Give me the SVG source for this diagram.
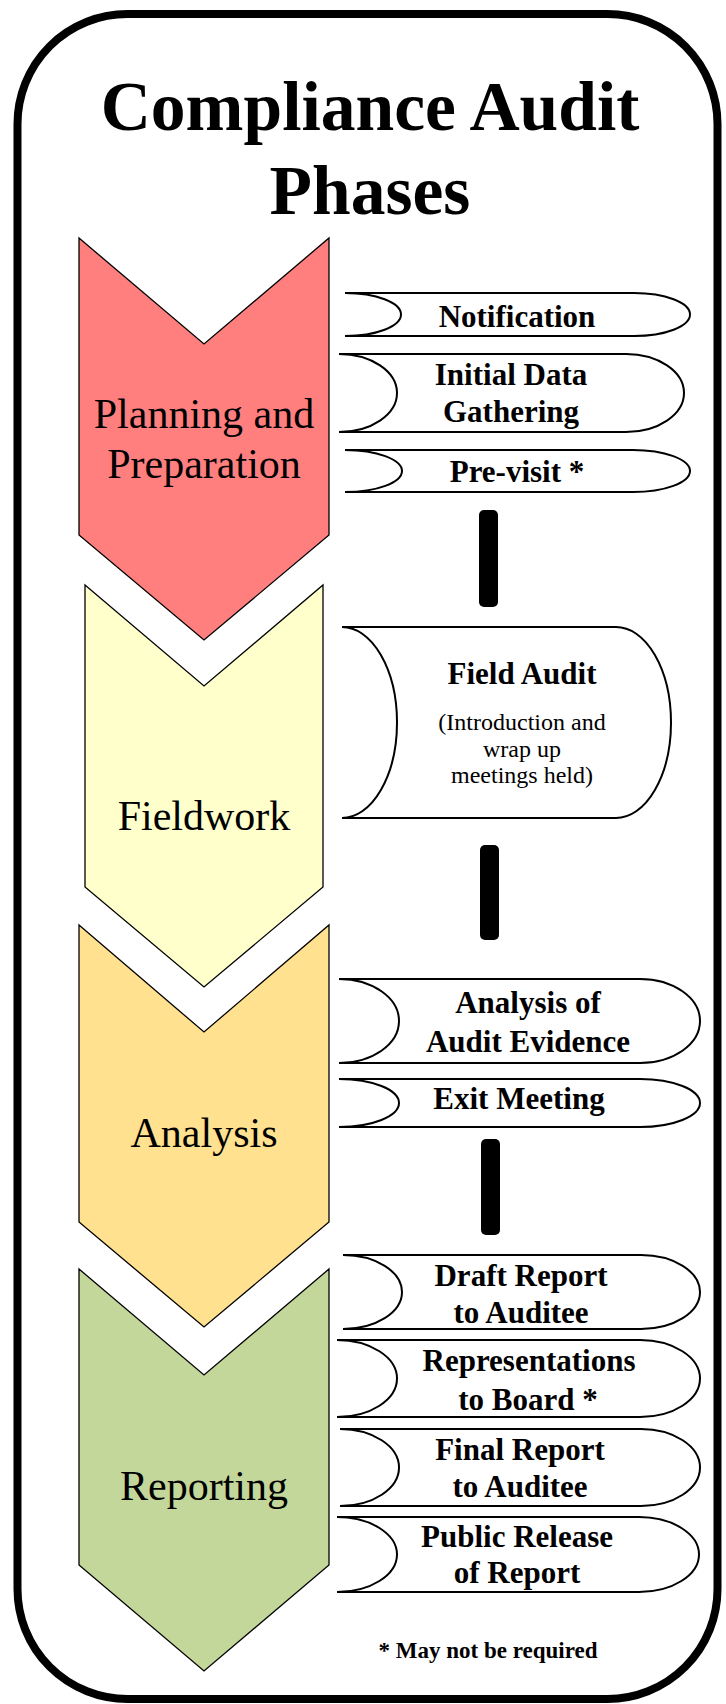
<svg xmlns="http://www.w3.org/2000/svg" width="726" height="1704" viewBox="0 0 726 1704">
<style>
.title{font-family:"Liberation Serif","Times New Roman",serif;font-weight:bold;font-size:69.5px;fill:#000;text-anchor:middle}
.phase{font-family:"Liberation Serif","Times New Roman",serif;font-size:42px;fill:#000;text-anchor:middle}
.step{font-family:"Liberation Serif","Times New Roman",serif;font-weight:bold;font-size:31px;fill:#000;text-anchor:middle}
.small{font-family:"Liberation Serif","Times New Roman",serif;font-size:24px;fill:#000;text-anchor:middle}
.note{font-family:"Liberation Serif","Times New Roman",serif;font-weight:bold;font-size:23px;fill:#000;text-anchor:middle}
.chev{stroke:#000;stroke-width:1.3;stroke-linejoin:miter}
.box{fill:#fff;stroke:#000;stroke-width:2}
.bar{fill:#000}
</style>
<rect x="0" y="0" width="726" height="1704" fill="#fff"/>
<rect id="frame" x="17.5" y="14" width="700" height="1685" rx="110" ry="110" fill="#fff" stroke="#000" stroke-width="8"/>
<g id="title">
<text class="title" x="370" y="130">Compliance Audit</text>
<text class="title" x="370" y="214">Phases</text>
</g>
<g id="phase-planning">
<path class="chev" fill="#FF7F7F" d="M79,238 L204,344 L329,238 L329,535 L204,640 L79,535 Z"/>
<text class="phase" x="204" y="428">Planning and</text>
<text class="phase" x="204" y="478">Preparation</text>
</g>
<g id="phase-fieldwork">
<path class="chev" fill="#FFFFCC" d="M85,585 L204,686 L323,585 L323,887 L204,987 L85,887 Z"/>
<text class="phase" x="204" y="830">Fieldwork</text>
</g>
<g id="phase-analysis">
<path class="chev" fill="#FFE190" d="M79,925 L204,1032 L329,925 L329,1222 L204,1327 L79,1222 Z"/>
<text class="phase" x="204" y="1147">Analysis</text>
</g>
<g id="phase-reporting">
<path class="chev" fill="#C4D79B" d="M79,1269 L204,1375 L329,1269 L329,1565 L204,1671 L79,1565 Z"/>
<text class="phase" x="204" y="1500">Reporting</text>
</g>
<g id="connectors">
<rect class="bar" x="479" y="510" width="19" height="97" rx="5"/>
<rect class="bar" x="480" y="845" width="19" height="95" rx="5"/>
<rect class="bar" x="481" y="1139" width="19" height="96" rx="5"/>
</g>
<g id="step-notification">
<path class="box" d="M345,293 H634 A56,21.5 0 0 1 634,336 H345 A56,21.5 0 0 0 345,293 Z"/>
<text class="step" x="517" y="327">Notification</text>
</g>
<g id="step-initial-data">
<path class="box" d="M339,354 H626 A58,39 0 0 1 626,432 H339 A58,39 0 0 0 339,354 Z"/>
<text class="step" x="511" y="385">Initial Data</text>
<text class="step" x="511" y="422">Gathering</text>
</g>
<g id="step-previsit">
<path class="box" d="M345,450 H633 A57,21 0 0 1 633,492 H345 A57,21 0 0 0 345,450 Z"/>
<text class="step" x="517" y="482">Pre-visit *</text>
</g>
<g id="step-field-audit">
<path class="box" d="M342,627 H616 A55,95.5 0 0 1 616,818 H342 A55,95.5 0 0 0 342,627 Z"/>
<text class="step" x="522" y="684">Field Audit</text>
<text class="small" x="522" y="730">(Introduction and</text>
<text class="small" x="522" y="756.5">wrap up</text>
<text class="small" x="522" y="783">meetings held)</text>
</g>
<g id="step-analysis-evidence">
<path class="box" d="M339,979 H640 A60,42 0 0 1 640,1063 H339 A60,42 0 0 0 339,979 Z"/>
<text class="step" x="528" y="1013">Analysis of</text>
<text class="step" x="528" y="1052">Audit Evidence</text>
</g>
<g id="step-exit-meeting">
<path class="box" d="M339,1079 H640 A60,24 0 0 1 640,1127 H339 A60,24 0 0 0 339,1079 Z"/>
<text class="step" x="519" y="1109">Exit Meeting</text>
</g>
<g id="step-draft-report">
<path class="box" d="M343,1255 H641 A59,37 0 0 1 641,1329 H343 A59,37 0 0 0 343,1255 Z"/>
<text class="step" x="521" y="1286">Draft Report</text>
<text class="step" x="521" y="1323">to Auditee</text>
</g>
<g id="step-representations">
<path class="box" d="M337,1340 H640 A60,38.5 0 0 1 640,1417 H337 A60,38.5 0 0 0 337,1340 Z"/>
<text class="step" x="529" y="1371">Representations</text>
<text class="step" x="528" y="1410">to Board *</text>
</g>
<g id="step-final-report">
<path class="box" d="M340,1429 H641 A59,38.5 0 0 1 641,1506 H340 A59,38.5 0 0 0 340,1429 Z"/>
<text class="step" x="520" y="1460">Final Report</text>
<text class="step" x="520" y="1497">to Auditee</text>
</g>
<g id="step-public-release">
<path class="box" d="M337,1517 H639 A60,37.5 0 0 1 639,1592 H337 A60,37.5 0 0 0 337,1517 Z"/>
<text class="step" x="517" y="1547">Public Release</text>
<text class="step" x="517" y="1583">of Report</text>
</g>
<g id="footnote">
<text class="note" x="488" y="1658">* May not be required</text>
</g>
</svg>
